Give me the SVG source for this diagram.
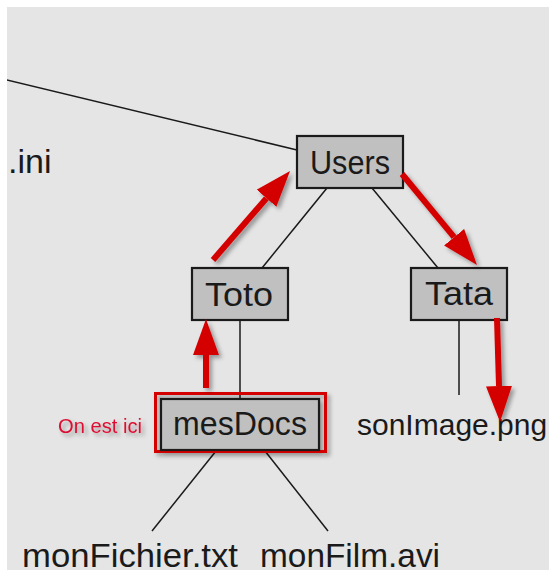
<svg xmlns="http://www.w3.org/2000/svg" width="551" height="574" viewBox="0 0 551 574">
  <defs>
    <clipPath id="panel">
      <rect x="7" y="7" width="542" height="563"/>
    </clipPath>
    <filter id="shadow" x="-20%" y="-20%" width="150%" height="150%">
      <feDropShadow dx="3" dy="3" stdDeviation="2" flood-color="#000" flood-opacity="0.35"/>
    </filter>
    <marker id="head" viewBox="0 0 36 26" refX="0" refY="13" markerWidth="36" markerHeight="26" markerUnits="userSpaceOnUse" orient="auto">
      <path d="M0,0 L36,13 L0,26 z" fill="#d40000"/>
    </marker>
    <style>
      .box { fill: #c0c0c0; stroke: #1a1a1a; stroke-width: 2.2; }
      .lbl { font-family: "Liberation Sans", Arial, sans-serif; font-size: 34px; fill: #1a1a1a; }
      .edge { stroke: #1a1a1a; stroke-width: 1.5; fill: none; }
      .arrow { stroke: #d40000; stroke-width: 6; fill: none; marker-end: url(#head); }
    </style>
  </defs>
  <rect x="0" y="0" width="551" height="574" fill="#ffffff"/>
  <rect x="7" y="7" width="542" height="563" fill="#e5e5e5"/>
  <g id="connectors" clip-path="url(#panel)">
    <line class="edge" x1="0" y1="78.3" x2="297" y2="150"/>
    <line class="edge" x1="327" y1="188" x2="262" y2="268"/>
    <line class="edge" x1="372" y1="188" x2="438" y2="268"/>
    <line class="edge" x1="240" y1="320" x2="240" y2="399"/>
    <line class="edge" x1="459" y1="320" x2="459" y2="395"/>
    <line class="edge" x1="216" y1="451" x2="152" y2="531"/>
    <line class="edge" x1="265" y1="451" x2="328" y2="531"/>
  </g>
  <g id="leaf-ini">
    <text class="lbl" x="8" y="173">.ini</text>
  </g>
  <g id="node-users">
    <rect class="box" x="297" y="136" width="106" height="52"/>
    <text class="lbl" x="350" y="174" text-anchor="middle" textLength="80" lengthAdjust="spacingAndGlyphs">Users</text>
  </g>
  <g id="node-toto">
    <rect class="box" x="192" y="268" width="96" height="52"/>
    <text class="lbl" x="239" y="306" text-anchor="middle" textLength="68" lengthAdjust="spacingAndGlyphs">Toto</text>
  </g>
  <g id="node-tata">
    <rect class="box" x="411" y="268" width="96" height="52"/>
    <text class="lbl" x="459" y="305" text-anchor="middle" textLength="68" lengthAdjust="spacingAndGlyphs">Tata</text>
  </g>
  <g id="node-mesdocs">
    <g filter="url(#shadow)">
      <rect x="155.5" y="393.5" width="170" height="58" fill="none" stroke="#d40000" stroke-width="3"/>
      <rect class="box" x="161" y="399" width="158" height="51"/>
    </g>
    <text class="lbl" x="240" y="435" text-anchor="middle" textLength="134" lengthAdjust="spacingAndGlyphs">mesDocs</text>
  </g>
  <g id="note-on-est-ici" filter="url(#shadow)">
    <text x="58" y="433" font-family="Liberation Sans, Arial, sans-serif" font-size="20" fill="#dd1133" textLength="84" lengthAdjust="spacingAndGlyphs">On est ici</text>
  </g>
  <g id="leaf-sonimage">
    <text class="lbl" x="357" y="435" style="font-size:30px">sonImage.png</text>
  </g>
  <g id="leaf-monfichier">
    <text class="lbl" x="22" y="567" textLength="216" lengthAdjust="spacingAndGlyphs">monFichier.txt</text>
  </g>
  <g id="leaf-monfilm">
    <text class="lbl" x="260" y="567" textLength="180" lengthAdjust="spacingAndGlyphs">monFilm.avi</text>
  </g>
  <g id="path-arrows" filter="url(#shadow)">
    <line class="arrow" x1="213" y1="260" x2="266.5" y2="198.2"/>
    <line class="arrow" x1="206" y1="388" x2="206" y2="355"/>
    <line class="arrow" x1="402" y1="174" x2="454.1" y2="237.2"/>
    <line class="arrow" x1="497" y1="318" x2="499" y2="386"/>
  </g>
</svg>
